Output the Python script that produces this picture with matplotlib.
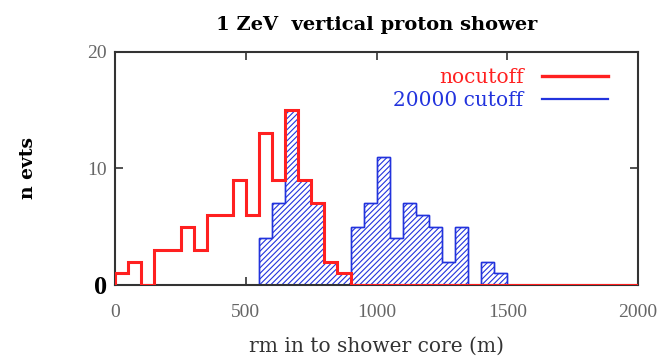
import matplotlib.pyplot as plt
import numpy as np
from matplotlib.lines import Line2D

plt.rcParams['font.family'] = ['Liberation Serif', 'DejaVu Serif']
plt.rcParams['hatch.linewidth'] = 0.8

bin_width = 50
red_counts = [1, 2, 0, 3, 3, 5, 3, 6, 6, 9,
              6, 13, 9, 15, 9, 7, 2, 1, 0, 0,
              0, 0, 0, 0, 0, 0, 0, 0, 0, 0,
              0, 0, 0, 0, 0, 0, 0, 0, 0, 0]
blue_counts = [0, 0, 0, 0, 0, 0, 0, 0, 0, 0,
               0, 4, 7, 15, 9, 7, 2, 1, 5, 7,
               11, 4, 7, 6, 5, 2, 5, 0, 2, 1]
red_edges = np.arange(len(red_counts) + 1) * bin_width
blue_edges = np.arange(len(blue_counts) + 1) * bin_width

xticks = [0, 500, 1000, 1500, 2000]
yticks = [0, 10, 20]

wide = ['DejaVu Serif']

fig = plt.figure(figsize=(6.62, 3.63), dpi=100)
ax = fig.add_axes([0.174, 0.215, 0.79, 0.642])

ax.stairs(blue_counts, blue_edges, fill=True, facecolor='white',
          edgecolor='#2233dd', hatch='//////', lw=1.0, zorder=2)
ax.stairs(blue_counts, blue_edges, color='#2233dd', lw=1.0, zorder=2)
ax.stairs(red_counts, red_edges, color='#ff2020', lw=2.2, zorder=3)

ax.set_xlim(0, 2000)
ax.set_ylim(0, 20)
ax.set_xticks(xticks, labels=[str(t) for t in xticks])
ax.set_yticks(yticks, labels=[str(t) for t in yticks])
ax.tick_params(direction='in', top=True, right=True, length=6, width=1.2,
               colors='#333333', labelsize=14, labelcolor='#666666')
ax.tick_params(axis='x', pad=14)
ax.tick_params(axis='y', pad=6)
ylabs = ax.get_yticklabels()
ylabs[0].set_fontsize(19)
ylabs[0].set_fontweight('bold')
ylabs[0].set_color('black')
for s in ax.spines.values():
    s.set_color('#333333')
    s.set_linewidth(1.5)

ax.set_title('1 ZeV  vertical proton shower', fontsize=14, family=wide,
             fontweight='bold', pad=16)
ax.set_xlabel('rm in to shower core (m)', fontsize=14.5, family=wide,
              color='#333333', labelpad=11)
ax.set_ylabel('n evts', fontsize=13.5, family=wide, fontweight='bold',
              labelpad=36)

handles = [Line2D([], [], color='#ff2020', lw=2.4),
           Line2D([], [], color='#2233dd', lw=1.6)]
leg = ax.legend(handles, ['nocutoff', '20000 cutoff'], loc='upper right',
                bbox_to_anchor=(0.985, 1.025),
                markerfirst=False, frameon=False,
                prop={'family': wide, 'size': 14.5},
                handlelength=3.3, labelspacing=0.2,
                borderaxespad=0.2, borderpad=0.9, handletextpad=0.9)
for t, c in zip(leg.get_texts(), ['#ff2020', '#2233dd']):
    t.set_color(c)

fig.savefig('out.png', dpi=100)
